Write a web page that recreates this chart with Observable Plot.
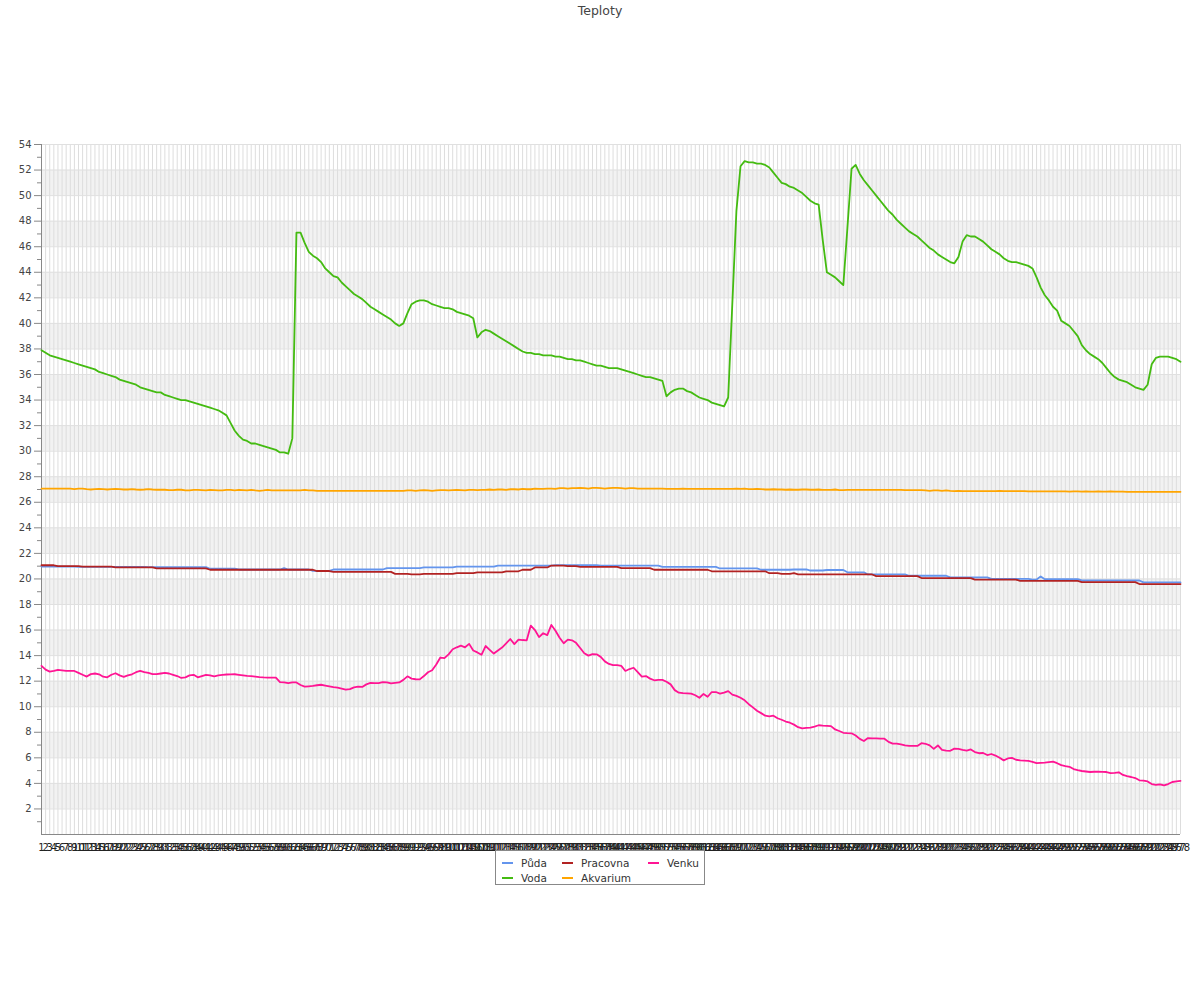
<!DOCTYPE html>
<html>
<head>
<meta charset="utf-8">
<script src="https://cdn.jsdelivr.net/npm/d3@7"></script>
<script src="https://cdn.jsdelivr.net/npm/@observablehq/plot@0.6"></script>
<style>
  body { margin: 0; background: #fff; font-family: "DejaVu Sans", sans-serif; }
  #wrap { position: relative; width: 1200px; height: 1000px; }
  #title { height: 24px; line-height: 22px; text-align: center; font-size: 12.5px; color: #444; }
  #legend { position: absolute; left: 495px; top: 850px; width: 210px; height: 35px; border: 1px solid #888; background: #fff;
    box-sizing: border-box; display: grid; grid-template-columns: 60px 86px auto; grid-template-rows: 15px 15px;
    grid-auto-flow: column; padding: 4px 0 0 6px; font-size: 10.5px; color: #333; }
  .item { display: flex; align-items: center; white-space: nowrap; }
  .sw { width: 11px; height: 2px; margin-right: 8px; }
</style>
</head>
<body>
<div id="wrap">
  <div id="title">Teploty</div>
  <div id="chart"></div>
  <div id="legend"></div>
</div>
<script>
const categories = d3.range(1, 279);

const seriesNames = ["Půda", "Voda", "Pracovna", "Akvarium", "Venku"];
const seriesColors = ["#6495ed", "#44bb11", "#b22222", "#ffa500", "#ff1493"];

const puda = [
20.97,20.97,20.97,20.97,20.97,20.97,20.97,20.97,20.97,20.95,
20.95,20.95,20.95,20.95,20.95,20.95,20.95,20.95,20.95,20.95,
20.95,20.95,20.95,20.95,20.95,20.95,20.92,20.92,20.92,20.92,
20.92,20.92,20.92,20.92,20.92,20.92,20.92,20.92,20.92,20.92,
20.92,20.8,20.8,20.8,20.8,20.8,20.8,20.8,20.74,20.74,
20.74,20.74,20.74,20.74,20.74,20.74,20.74,20.74,20.74,20.85,
20.74,20.74,20.74,20.74,20.74,20.74,20.63,20.63,20.63,20.63,
20.63,20.74,20.74,20.74,20.74,20.74,20.74,20.74,20.74,20.74,
20.74,20.74,20.74,20.74,20.85,20.85,20.85,20.85,20.85,20.85,
20.85,20.85,20.85,20.9,20.9,20.9,20.9,20.9,20.9,20.9,
20.9,20.97,20.97,20.97,20.97,20.97,20.97,20.97,20.97,20.97,
20.97,21.05,21.05,21.05,21.05,21.05,21.05,21.05,21.05,21.05,
21.05,21.05,21.05,21.05,21.05,21.08,21.08,21.08,21.08,21.08,
21.08,21.08,21.08,21.08,21.08,21.08,21.05,21.05,21.05,21.05,
21.05,21.05,21.05,21.05,21.05,21.05,21.05,21.05,21.05,21.05,
21.05,20.95,20.95,20.95,20.95,20.95,20.95,20.95,20.95,20.95,
20.95,20.95,20.95,20.95,20.95,20.82,20.82,20.82,20.82,20.82,
20.82,20.82,20.82,20.82,20.82,20.72,20.72,20.72,20.72,20.72,
20.72,20.72,20.72,20.74,20.74,20.74,20.74,20.66,20.66,20.66,
20.66,20.7,20.7,20.7,20.7,20.7,20.52,20.52,20.52,20.52,
20.52,20.35,20.35,20.35,20.35,20.35,20.35,20.35,20.35,20.35,
20.35,20.25,20.25,20.25,20.25,20.25,20.25,20.25,20.25,20.25,
20.25,20.12,20.12,20.12,20.12,20.12,20.12,20.12,20.12,20.12,
20.12,20.0,20.0,20.0,20.0,20.0,20.0,20.0,20.0,20.0,
20.0,19.95,19.95,20.2,19.98,19.98,19.98,19.98,19.98,19.98,
19.98,19.98,19.98,19.88,19.88,19.88,19.88,19.88,19.88,19.88,
19.88,19.88,19.88,19.88,19.88,19.88,19.88,19.88,19.73,19.73,
19.73,19.73,19.73,19.73,19.73,19.73,19.73,19.73];

const voda = [
37.9,37.7,37.5,37.4,37.3,37.2,37.1,37.0,36.9,36.8,
36.7,36.6,36.5,36.4,36.2,36.1,36.0,35.9,35.8,35.6,
35.5,35.4,35.3,35.2,35.0,34.9,34.8,34.7,34.6,34.6,
34.4,34.3,34.2,34.1,34.0,34.0,33.9,33.8,33.7,33.6,
33.5,33.4,33.3,33.2,33.0,32.8,32.2,31.6,31.2,30.9,
30.8,30.6,30.6,30.5,30.4,30.3,30.2,30.1,29.9,29.9,
29.8,31.0,47.1,47.1,46.3,45.6,45.3,45.1,44.8,44.3,
44.0,43.7,43.6,43.2,42.9,42.6,42.3,42.1,41.9,41.6,
41.3,41.1,40.9,40.7,40.5,40.3,40.0,39.8,40.0,40.8,
41.5,41.7,41.8,41.8,41.7,41.5,41.4,41.3,41.2,41.2,
41.1,40.9,40.8,40.7,40.6,40.4,38.9,39.3,39.5,39.4,
39.2,39.0,38.8,38.6,38.4,38.2,38.0,37.8,37.7,37.7,
37.6,37.6,37.5,37.5,37.5,37.4,37.4,37.3,37.2,37.2,
37.1,37.1,37.0,36.9,36.8,36.7,36.7,36.6,36.5,36.5,
36.5,36.4,36.3,36.2,36.1,36.0,35.9,35.8,35.8,35.7,
35.6,35.5,34.3,34.6,34.8,34.9,34.9,34.7,34.6,34.4,
34.2,34.1,34.0,33.8,33.7,33.6,33.5,34.2,41.5,48.8,
52.3,52.7,52.6,52.6,52.5,52.5,52.4,52.2,51.8,51.4,
51.0,50.9,50.7,50.6,50.4,50.2,49.9,49.6,49.4,49.3,
46.5,44.0,43.8,43.6,43.3,43.0,47.5,52.1,52.4,51.7,
51.2,50.8,50.4,50.0,49.6,49.2,48.8,48.5,48.1,47.8,
47.5,47.2,47.0,46.8,46.5,46.2,45.9,45.7,45.4,45.2,
45.0,44.8,44.7,45.2,46.4,46.9,46.8,46.8,46.6,46.4,
46.1,45.8,45.6,45.4,45.1,44.9,44.8,44.8,44.7,44.6,
44.5,44.3,43.6,42.8,42.2,41.8,41.3,41.0,40.2,40.0,
39.8,39.4,39.0,38.3,37.9,37.6,37.4,37.2,36.9,36.5,
36.1,35.8,35.6,35.5,35.4,35.2,35.0,34.9,34.8,35.2,
36.8,37.3,37.4,37.4,37.4,37.3,37.2,37.0];

const pracovna = [
21.07,21.07,21.07,21.07,21.0,21.0,21.0,21.0,21.0,21.0,
20.97,20.97,20.97,20.97,20.97,20.97,20.97,20.97,20.9,20.9,
20.9,20.9,20.9,20.9,20.9,20.9,20.9,20.9,20.82,20.82,
20.82,20.82,20.82,20.82,20.82,20.82,20.82,20.82,20.82,20.82,
20.82,20.72,20.72,20.72,20.72,20.72,20.72,20.72,20.72,20.72,
20.72,20.72,20.72,20.72,20.72,20.72,20.72,20.72,20.72,20.72,
20.72,20.72,20.72,20.72,20.72,20.72,20.72,20.62,20.62,20.62,
20.62,20.55,20.55,20.55,20.55,20.55,20.55,20.55,20.55,20.55,
20.55,20.55,20.55,20.55,20.55,20.55,20.4,20.4,20.4,20.4,
20.35,20.35,20.35,20.4,20.4,20.4,20.4,20.4,20.4,20.4,
20.4,20.45,20.45,20.45,20.45,20.45,20.52,20.52,20.52,20.52,
20.52,20.52,20.52,20.6,20.6,20.6,20.6,20.72,20.72,20.72,
20.9,20.9,20.9,20.9,21.05,21.05,21.05,21.05,21.0,21.0,
21.0,20.95,20.95,20.95,20.95,20.95,20.95,20.95,20.95,20.95,
20.95,20.85,20.85,20.85,20.85,20.85,20.85,20.85,20.85,20.72,
20.72,20.72,20.72,20.72,20.72,20.72,20.72,20.72,20.72,20.72,
20.72,20.72,20.72,20.6,20.6,20.6,20.6,20.6,20.6,20.6,
20.6,20.6,20.6,20.6,20.6,20.6,20.6,20.45,20.45,20.45,
20.4,20.4,20.4,20.45,20.36,20.36,20.36,20.36,20.35,20.35,
20.35,20.35,20.35,20.35,20.35,20.35,20.35,20.35,20.35,20.35,
20.35,20.35,20.35,20.22,20.22,20.22,20.22,20.22,20.22,20.22,
20.22,20.22,20.22,20.22,20.07,20.07,20.07,20.07,20.07,20.07,
20.07,20.07,20.07,20.07,20.07,20.07,20.07,19.95,19.95,19.95,
19.95,19.95,19.95,19.95,19.95,19.95,19.95,19.95,19.85,19.85,
19.85,19.85,19.85,19.85,19.85,19.85,19.85,19.85,19.85,19.85,
19.85,19.85,19.85,19.75,19.75,19.75,19.75,19.75,19.75,19.75,
19.75,19.75,19.75,19.75,19.75,19.75,19.75,19.6,19.6,19.6,
19.6,19.6,19.6,19.6,19.6,19.6,19.6,19.6];

const akvarium = [
27.07,27.07,27.07,27.07,27.07,27.07,27.07,27.07,27.03,27.07,
27.07,27.03,27.0,27.03,27.05,27.03,27.0,27.03,27.05,27.03,
27.0,27.0,27.03,27.0,26.98,27.0,27.03,27.0,26.98,26.98,
26.98,26.95,26.95,26.98,26.98,26.93,26.93,26.97,26.97,26.95,
26.93,26.97,26.95,26.93,26.93,26.97,26.97,26.93,26.97,26.95,
26.93,26.97,26.93,26.9,26.93,26.97,26.93,26.93,26.93,26.93,
26.93,26.93,26.93,26.93,26.97,26.93,26.93,26.9,26.9,26.9,
26.9,26.9,26.9,26.9,26.9,26.9,26.9,26.9,26.9,26.9,
26.9,26.9,26.9,26.9,26.9,26.9,26.9,26.9,26.9,26.93,
26.93,26.9,26.93,26.95,26.93,26.9,26.93,26.95,26.95,26.93,
26.95,26.97,26.95,26.93,26.97,26.97,26.95,26.97,26.97,27.0,
26.97,27.0,27.0,26.97,27.02,27.02,27.0,27.05,27.02,27.02,
27.07,27.05,27.05,27.07,27.07,27.05,27.1,27.1,27.07,27.1,
27.1,27.12,27.1,27.07,27.12,27.12,27.1,27.07,27.1,27.12,
27.12,27.1,27.07,27.1,27.1,27.07,27.07,27.07,27.07,27.07,
27.07,27.07,27.05,27.05,27.05,27.05,27.07,27.05,27.05,27.05,
27.05,27.05,27.05,27.05,27.05,27.05,27.05,27.05,27.05,27.07,
27.05,27.07,27.03,27.03,27.05,27.03,27.0,27.0,27.02,27.0,
27.0,26.98,27.0,26.98,26.98,27.0,27.0,26.98,26.98,27.0,
26.97,26.97,26.97,27.0,26.95,26.95,26.97,26.97,26.97,26.97,
26.97,26.97,26.97,26.97,26.97,26.97,26.97,26.97,26.97,26.97,
26.95,26.95,26.95,26.95,26.95,26.93,26.9,26.93,26.93,26.9,
26.93,26.9,26.88,26.9,26.88,26.88,26.88,26.88,26.88,26.88,
26.88,26.88,26.88,26.9,26.88,26.88,26.88,26.88,26.88,26.88,
26.86,26.86,26.86,26.86,26.86,26.86,26.86,26.86,26.86,26.85,
26.83,26.85,26.85,26.83,26.85,26.83,26.83,26.85,26.83,26.83,
26.85,26.83,26.83,26.83,26.82,26.82,26.82,26.82,26.82,26.82,
26.82,26.82,26.82,26.82,26.82,26.82,26.82,26.82];

const venku = [
13.2,12.9,12.75,12.8,12.88,12.85,12.8,12.8,12.8,12.65,
12.5,12.36,12.55,12.6,12.54,12.35,12.3,12.5,12.62,12.45,
12.33,12.45,12.54,12.7,12.8,12.7,12.65,12.55,12.55,12.6,
12.65,12.6,12.5,12.4,12.25,12.3,12.45,12.5,12.3,12.4,
12.5,12.45,12.38,12.45,12.5,12.52,12.53,12.54,12.5,12.46,
12.42,12.4,12.36,12.32,12.29,12.28,12.28,12.28,11.93,11.9,
11.84,11.9,11.9,11.7,11.57,11.6,11.63,11.68,11.72,11.66,
11.6,11.54,11.5,11.42,11.34,11.38,11.52,11.57,11.55,11.75,
11.86,11.85,11.84,11.93,11.9,11.82,11.86,11.9,12.1,12.38,
12.2,12.15,12.14,12.4,12.7,12.85,13.3,13.85,13.8,14.1,
14.5,14.65,14.78,14.65,14.92,14.4,14.25,14.06,14.75,14.45,
14.16,14.4,14.63,14.95,15.3,14.9,15.25,15.22,15.2,16.35,
16.0,15.45,15.75,15.6,16.4,15.95,15.4,14.97,15.25,15.2,
15.0,14.6,14.19,14.0,14.12,14.1,13.9,13.55,13.35,13.25,
13.25,13.2,12.8,12.95,13.05,12.7,12.36,12.4,12.2,12.07,
12.1,12.1,11.95,11.75,11.3,11.1,11.06,11.05,11.02,10.9,
10.7,11.0,10.78,11.15,11.15,11.03,11.1,11.22,10.95,10.85,
10.7,10.5,10.2,9.95,9.68,9.5,9.3,9.25,9.3,9.1,
8.98,8.84,8.75,8.6,8.4,8.3,8.35,8.36,8.45,8.55,
8.52,8.5,8.48,8.22,8.1,7.96,7.93,7.92,7.75,7.48,
7.32,7.55,7.53,7.52,7.5,7.5,7.25,7.11,7.11,7.05,
6.98,6.93,6.93,6.93,7.15,7.1,6.98,6.7,6.97,6.62,
6.56,6.55,6.72,6.7,6.62,6.56,6.66,6.45,6.36,6.38,
6.22,6.3,6.18,6.0,5.8,5.95,6.0,5.85,5.8,5.78,
5.76,5.68,5.58,5.6,5.62,5.66,5.7,5.58,5.43,5.36,
5.3,5.12,5.03,4.97,4.93,4.89,4.91,4.92,4.9,4.89,
4.8,4.82,4.87,4.66,4.56,4.5,4.42,4.24,4.22,4.15,
3.95,3.88,3.93,3.84,3.95,4.11,4.15,4.19];

const seriesValues = [puda, voda, pracovna, akvarium, venku];

const yMajor = d3.range(2, 55, 2);
const yMinor = d3.range(1, 54, 2);
const bandStarts = d3.range(2, 54, 4);

const rows = [];
seriesNames.forEach((name, s) => {
  seriesValues[s].forEach((v, i) => rows.push({series: name, cat: categories[i], value: v}));
});

const chart = Plot.plot({
  width: 1200,
  height: 880,
  marginTop: 120,
  marginBottom: 70,
  marginLeft: 41,
  marginRight: 20,
  style: {fontFamily: "DejaVu Sans, sans-serif", fontSize: "10px", background: "#fff", overflow: "visible", color: "#333"},
  x: {type: "point", domain: categories, padding: 0},
  y: {domain: [0, 54]},
  color: {domain: seriesNames, range: seriesColors},
  marks: [
    Plot.rect(bandStarts, {y1: d => d, y2: d => d + 2, fill: "#f2f2f2"}),
    Plot.gridX({stroke: "#dddddd", strokeOpacity: 1}),
    Plot.gridY(d3.range(0, 55, 2), {stroke: "#e0e0e0", strokeOpacity: 1}),
    Plot.axisY(yMajor, {tickSize: 7, tickPadding: 3, stroke: "#888", fill: "#444", label: null, fontSize: 10}),
    Plot.axisY(yMinor, {tickSize: 4, text: null, stroke: "#888", label: null}),
    Plot.ruleY([0], {stroke: "#888"}),
    Plot.ruleX([categories[0]], {stroke: "#888"}),
    Plot.axisX({tickSize: 0, tickPadding: 9, fill: "#222", label: null, fontSize: 10}),
    Plot.line(rows, {x: "cat", y: "value", z: "series", stroke: "series", strokeWidth: 1.8})
  ]
});
document.getElementById("chart").appendChild(chart);

const legend = document.getElementById("legend");
seriesNames.forEach((name, i) => {
  const item = document.createElement("div");
  item.className = "item";
  const sw = document.createElement("span");
  sw.className = "sw";
  sw.style.background = seriesColors[i];
  const t = document.createElement("span");
  t.textContent = name;
  item.appendChild(sw);
  item.appendChild(t);
  legend.appendChild(item);
});
</script>
</body>
</html>
